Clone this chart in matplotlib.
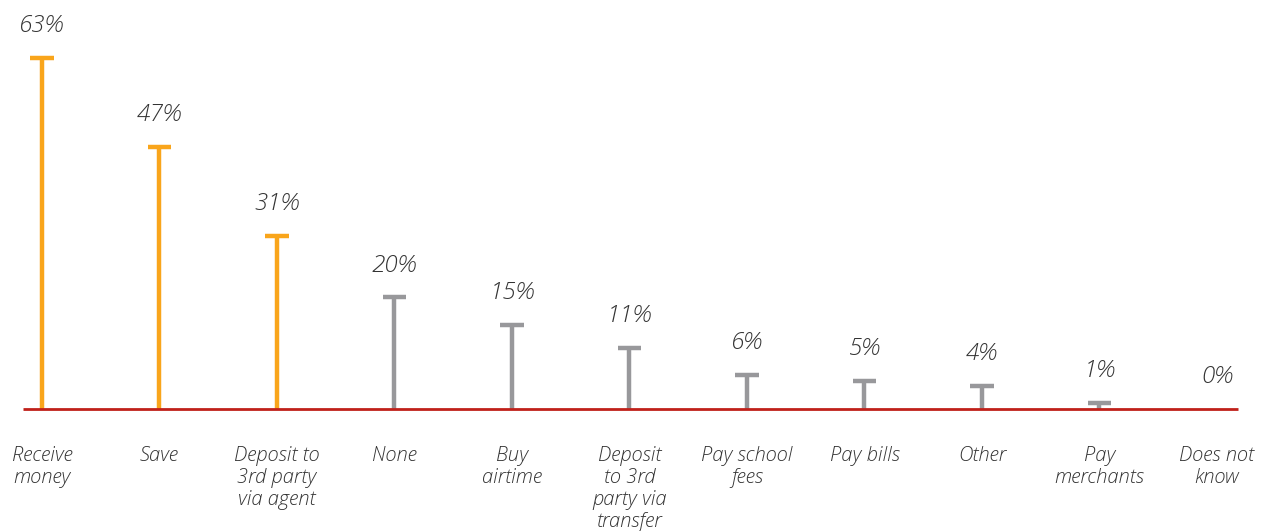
import matplotlib.pyplot as plt
import numpy as np

# Données
categories = ["Receive\nmoney", "Save", "Deposit to\n3rd party\nvia agent", "None",
              "Buy\nairtime", "Deposit\nto 3rd\nparty via\ntransfer", "Pay school\nfees",
              "Pay bills", "Other", "Pay\nmerchants", "Does not\nknow"]
values = [63, 47, 31, 20, 15, 11, 6, 5, 4, 1, 0]
highlight = [True, True, True, False, False, False, False, False, False, False, False]

orange = '#F9A51B'
grey = '#98989B'
red = '#C0201A'
txt = '#333333'

fig = plt.figure(figsize=(12.85, 5.31), dpi=100)
ax = fig.add_axes([0, 0, 1, 1])
ax.set_xlim(-0.357, 10.579)
ax.set_ylim(-22, 73.5)
ax.axis('off')

x = np.arange(len(categories))
cols = [orange if h else grey for h in highlight]

# ligne de base
ax.hlines(0, -0.162, 10.18, color=red, lw=2, zorder=3)

for xi, v, c in zip(x, values, cols):
    if v > 0:
        ax.vlines(xi, 0, v, color=c, lw=3.2, zorder=2)
        ax.hlines(v, xi - 0.1, xi + 0.1, color=c, lw=3.2, zorder=2)
    ax.annotate(f"{v}%", (xi, v), xytext=(0, 23), textcoords='offset points',
                ha='center', va='center', fontsize=17.5, style='italic',
                fontweight='light', color=txt, family='Open Sans')
    ax.annotate(categories[xi], (xi, 0), xytext=(0, -27), textcoords='offset points',
                ha='center', va='top', fontsize=14.5, style='italic',
                fontweight='light', color=txt, family='Open Sans', linespacing=1.12)

fig.savefig('out.png', dpi=100)
